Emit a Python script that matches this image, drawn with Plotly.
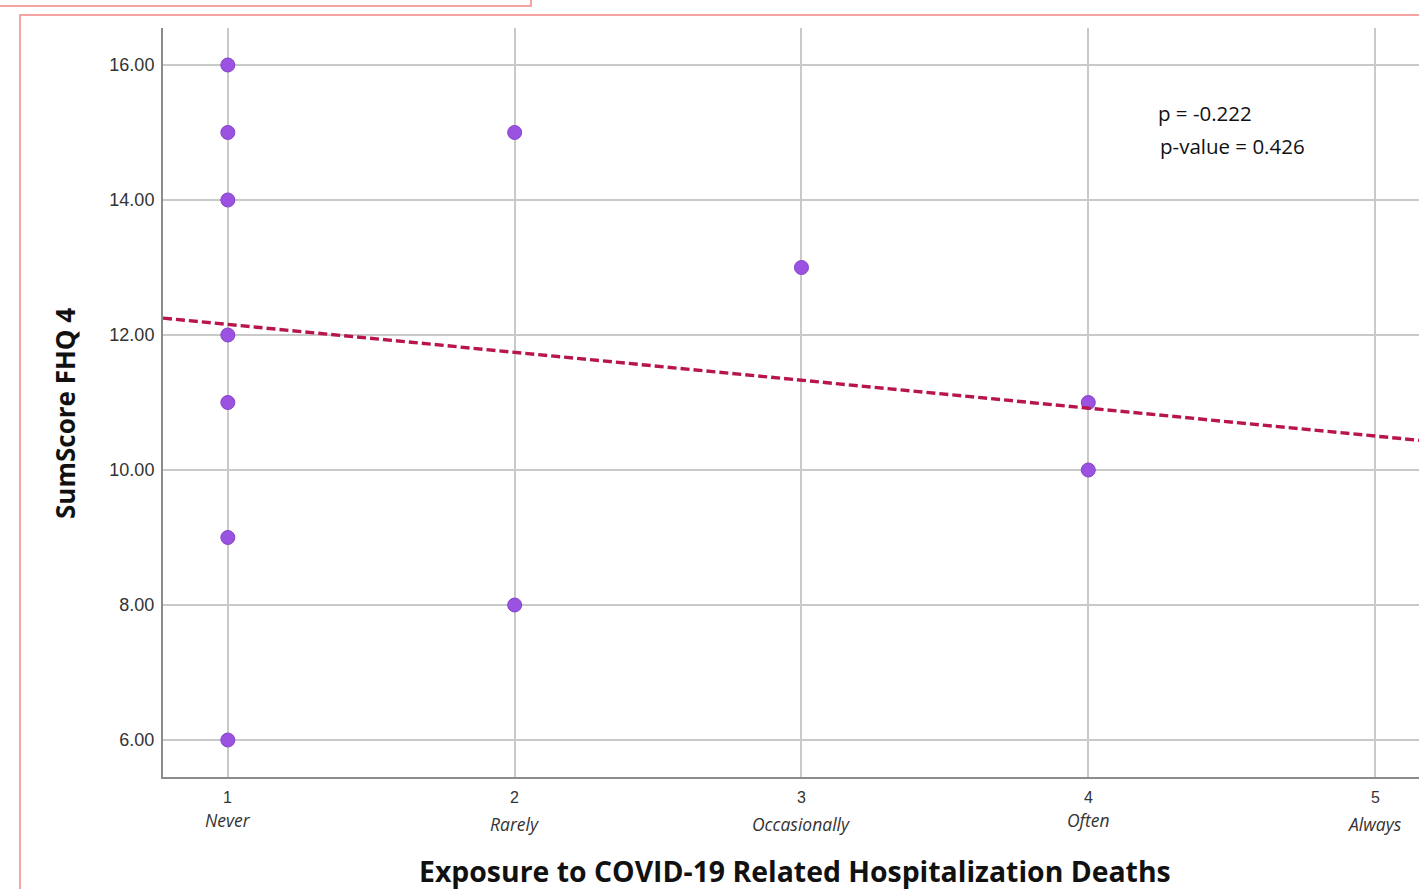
import plotly.graph_objects as go

# ---- data ----
exposure_codes = [1, 2, 3, 4, 5]
exposure_labels = ["Never", "Rarely", "Occasionally", "Often", "Always"]
x_vals = [1, 1, 1, 1, 1, 1, 1, 2, 2, 3, 4, 4]
y_vals = [16, 15, 14, 12, 11, 9, 6, 15, 8, 13, 11, 10]
fit_x = [0.774, 5.153]
fit_y = [12.25, 10.44]
y_ticks = [6, 8, 10, 12, 14, 16]
stats_lines = ["p = -0.222", "p-value = 0.426"]

W, H = 1419, 889
L, R, T, B = 163, 0, 28, 112
PW, PH = W - L - R, H - T - B


def px(xp):
    return (xp - L) / PW


def py(yp):
    return (H - B - yp) / PH


fig = go.Figure()

fig.add_trace(go.Scatter(
    x=x_vals, y=y_vals, mode="markers",
    marker=dict(size=14, color="#9b52e0", line=dict(color="#8442c8", width=1)),
    showlegend=False,
))
fig.add_trace(go.Scatter(
    x=fit_x, y=fit_y, mode="lines",
    line=dict(color="#b8164a", width=3.4, dash="9px,4px"),
    hoverinfo="skip", showlegend=False,
))

grid = "#c9c9c9"
fig.update_xaxes(
    range=[0.774, 5.153], tickvals=exposure_codes, showticklabels=False,
    showgrid=True, gridcolor=grid, gridwidth=2, zeroline=False,
    showline=True, linecolor="#8c8c8c", linewidth=2, ticks="",
)
fig.update_yaxes(
    range=[5.452, 16.548], tickvals=y_ticks, tickformat=".2f",
    tickfont=dict(family="Liberation Sans, Arial", size=18, color="#333333"),
    showgrid=True, gridcolor=grid, gridwidth=2, zeroline=False,
    showline=True, linecolor="#8c8c8c", linewidth=2, ticks="",
    ticklabelstandoff=3,
)

annotations = []
for code, lab in zip(exposure_codes, exposure_labels):
    annotations.append(dict(
        x=code, xref="x", y=py(797), yref="paper", text=str(code),
        showarrow=False, yanchor="middle", xanchor="center",
        font=dict(family="Liberation Sans, Arial", size=16, color="#333333"),
    ))
    dy = 824 if lab in ("Rarely", "Occasionally", "Always") else 820
    annotations.append(dict(
        x=code, xref="x", y=py(dy), yref="paper", text="<i>" + lab + "</i>",
        showarrow=False, yanchor="middle", xanchor="center",
        font=dict(family="Open Sans", size=17.5, color="#333333"),
    ))

annotations.append(dict(
    x=px(795), xref="paper", y=py(871), yref="paper",
    text="<b>Exposure to COVID-19 Related Hospitalization Deaths</b>",
    showarrow=False, xanchor="center", yanchor="middle",
    font=dict(family="Open Sans", size=28.4, color="#111111"),
))
annotations.append(dict(
    x=px(65), xref="paper", y=py(414), yref="paper",
    text="<b>SumScore FHQ 4</b>", textangle=-90,
    showarrow=False, xanchor="center", yanchor="middle",
    font=dict(family="Open Sans", size=26, color="#111111"),
))
annotations.append(dict(
    x=px(1156), xref="paper", y=py(113), yref="paper", text=stats_lines[0],
    showarrow=False, xanchor="left", yanchor="middle",
    font=dict(family="Open Sans", size=20.5, color="#111111"),
))
annotations.append(dict(
    x=px(1158), xref="paper", y=py(146), yref="paper", text=stats_lines[1],
    showarrow=False, xanchor="left", yanchor="middle",
    font=dict(family="Open Sans", size=20.5, color="#111111"),
))

pink = "#f5a3a3"
shapes = [
    dict(type="rect", xref="paper", yref="paper",
         x0=px(-5), x1=px(531), y0=py(-5), y1=py(6),
         line=dict(color=pink, width=2), layer="below"),
    dict(type="rect", xref="paper", yref="paper",
         x0=px(20), x1=px(1440), y0=py(15), y1=py(910),
         line=dict(color=pink, width=2), layer="below"),
]

fig.update_layout(
    width=W, height=H,
    margin=dict(l=L, r=R, t=T, b=B),
    paper_bgcolor="white", plot_bgcolor="white",
    annotations=annotations, shapes=shapes,
    showlegend=False,
)

fig.write_html(
    "out.html",
    config={"displayModeBar": False},
    post_script="document.body.style.margin='0';document.body.style.overflow='hidden';",
)
